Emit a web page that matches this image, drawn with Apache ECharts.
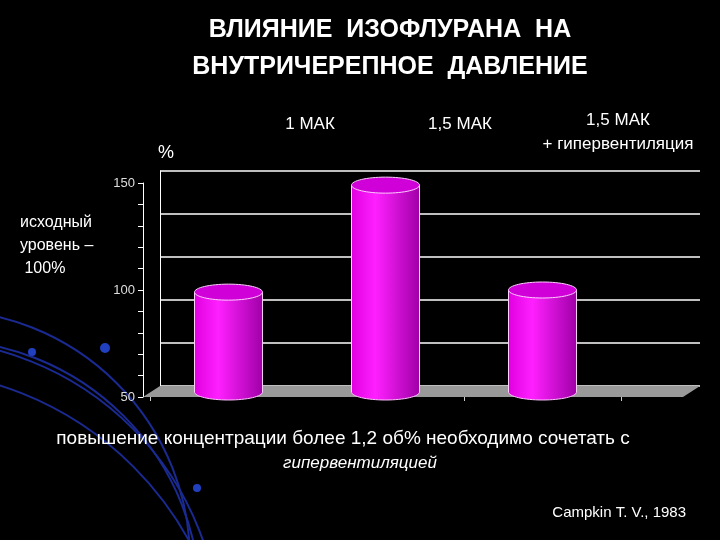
<!DOCTYPE html><html><head><meta charset="utf-8"><script src="https://cdn.jsdelivr.net/npm/echarts@6/dist/echarts.min.js"></script>
<style>html,body{margin:0;background:#000}#c{width:720px;height:540px}</style></head><body><div id="c"></div><script>
const categories=['1 МАК','1,5 МАК','1,5 МАК + гипервентиляция'];
const values=[99,149,100];
const tickLabels=[50,100,150];
const ch=echarts.init(document.getElementById('c'));
const W='#fff';
function cyl(params,api){
  const x=api.coord([api.value(0),api.value(1)]);
  const b=api.coord([api.value(0),50]);
  const w=68,rx=w/2,ry=8,cx=x[0],ty=x[1],by=b[1]-5;
  const grad=new echarts.graphic.LinearGradient(0,0,1,0,[{offset:0,color:'#e000e0'},{offset:0.35,color:'#ff20ff'},{offset:1,color:'#a000a8'}]);
  return {type:'group',children:[
    {type:'ellipse',shape:{cx:cx,cy:by,rx:rx,ry:ry},style:{fill:grad,stroke:'#ffc0ff',lineWidth:1}},
    {type:'rect',shape:{x:cx-rx,y:ty,width:w,height:by-ty},style:{fill:grad}},
    {type:'line',shape:{x1:cx-rx,y1:ty,x2:cx-rx,y2:by},style:{stroke:'#ffd0ff',lineWidth:1}},
    {type:'line',shape:{x1:cx+rx,y1:ty,x2:cx+rx,y2:by},style:{stroke:'#ffd0ff',lineWidth:1}},
    {type:'ellipse',shape:{cx:cx,cy:ty,rx:rx,ry:ry},style:{fill:'#d000d8',stroke:'#ffd0ff',lineWidth:1}}
  ]};
}
const arcs=[];
[[-60,560,250],[-60,600,260],[-80,640,300],[-100,700,330]].forEach(a=>arcs.push({type:'arc',shape:{cx:a[0],cy:a[1],r:a[2],startAngle:-Math.PI/2,endAngle:0},style:{stroke:'#1a2a90',lineWidth:2,fill:null},z:-1}));
ch.setOption({
  backgroundColor:'#000',
  grid:[{left:160,right:20,top:171,height:215},{left:150,width:471,top:183,height:214}],
  xAxis:[{type:'category',gridIndex:0,data:categories,show:false},{type:'category',gridIndex:1,data:categories,axisLine:{show:false},axisTick:{show:true,length:4,lineStyle:{color:'#ccc'}},axisLabel:{show:false}}],
  yAxis:[{type:'value',gridIndex:0,min:50,max:150,interval:20,axisLabel:{show:false},axisLine:{show:true,lineStyle:{color:W}},splitLine:{lineStyle:{color:W,width:1.5}},axisTick:{show:false}},
    {type:'value',gridIndex:1,min:50,max:150,interval:10,offset:7,axisLine:{show:true,lineStyle:{color:W}},splitLine:{show:false},axisTick:{show:true,length:5,lineStyle:{color:W}},
     axisLabel:{color:'#ddd',fontFamily:'Liberation Sans',fontSize:13,formatter:v=>tickLabels.includes(v)?v:''}}],
  graphic:[...arcs,
    {type:'circle',shape:{cx:32,cy:352,r:4},style:{fill:'#2040c0'}},
    {type:'circle',shape:{cx:105,cy:348,r:5},style:{fill:'#2040c0'}},
    {type:'circle',shape:{cx:197,cy:488,r:4},style:{fill:'#2040c0'}},
    {type:'polygon',shape:{points:[[143,397],[160,386],[700,386],[683,397]]},style:{fill:'#999'},z:1},
    {type:'text',x:390,y:12,style:{text:'ВЛИЯНИЕ  ИЗОФЛУРАНА  НА\nВНУТРИЧЕРЕПНОЕ  ДАВЛЕНИЕ',fill:W,font:'bold 25px Liberation Sans',align:'center',lineHeight:37}},
    {type:'text',x:310,y:116,style:{text:categories[0],fill:W,font:'17px Liberation Sans',align:'center'}},
    {type:'text',x:460,y:116,style:{text:categories[1],fill:W,font:'17px Liberation Sans',align:'center'}},
    {type:'text',x:618,y:108,style:{text:'1,5 МАК\n+ гипервентиляция',fill:W,font:'17px Liberation Sans',align:'center',lineHeight:24}},
    {type:'text',x:158,y:144,style:{text:'%',fill:W,font:'18px Liberation Sans'}},
    {type:'text',x:20,y:211,style:{text:'исходный\nуровень –\n 100%',fill:W,font:'16px Liberation Sans',lineHeight:23}},
    {type:'text',x:343,y:429,style:{text:'повышение концентрации более 1,2 об% необходимо сочетать с',fill:W,font:'19px Liberation Sans',align:'center'}},
    {type:'text',x:360,y:455,style:{text:'гипервентиляцией',fill:W,font:'italic 17px Liberation Sans',align:'center'}},
    {type:'text',x:686,y:505,style:{text:'Campkin T. V., 1983',fill:W,font:'15px Liberation Sans',align:'right'}}
  ],
  series:[{type:'custom',xAxisIndex:1,yAxisIndex:1,data:values.map((v,i)=>[i,v]),renderItem:cyl,z:5}]
});
</script></body></html>
